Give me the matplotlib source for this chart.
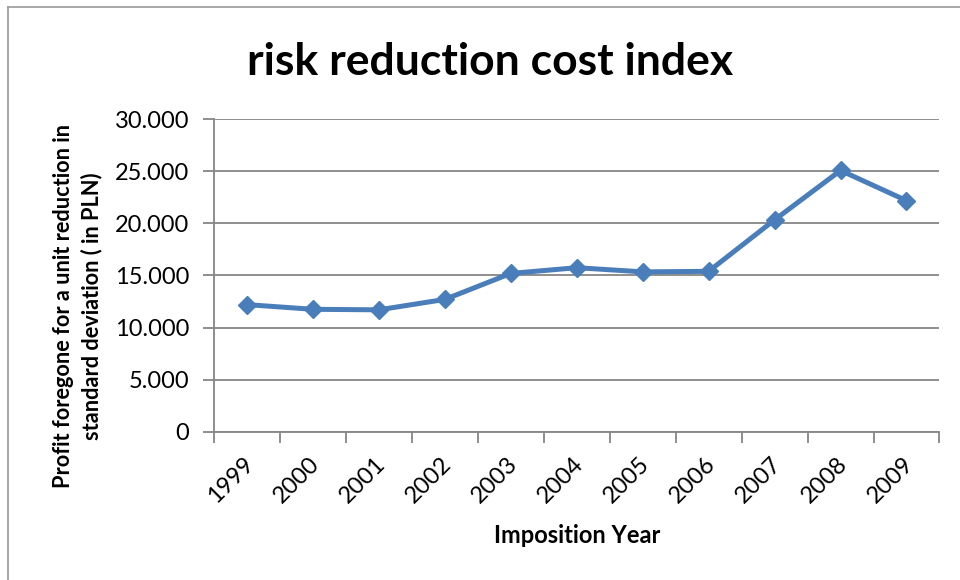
import matplotlib.pyplot as plt
from matplotlib.lines import Line2D
from matplotlib.ticker import FuncFormatter, MultipleLocator

# Data
years = ['1999', '2000', '2001', '2002', '2003', '2004',
         '2005', '2006', '2007', '2008', '2009']
cost = [12200, 11750, 11700, 12700, 15200, 15750,
        15350, 15400, 20350, 25100, 22200]

plt.rcParams['font.family'] = ['Lato', 'DejaVu Sans']

fig = plt.figure(figsize=(9.6, 5.8), dpi=100)
ax = fig.add_axes([0.2229, 0.256, 0.7557, 0.538])

x = range(len(years))
ax.plot(x, cost, color='#4A7EBB', linewidth=3.6, marker='D',
        markersize=9.5, zorder=3)

# Axes
ax.set_xlim(-0.5, len(years) - 0.5)
ax.set_ylim(0, 30000)
ax.yaxis.set_major_locator(MultipleLocator(5000))
ax.yaxis.set_major_formatter(FuncFormatter(lambda v, p: f'{v:,.0f}'.replace(',', '.')))
ax.set_xticks([i - 0.5 for i in range(len(years) + 1)], minor=False)
ax.set_xticklabels([''] * (len(years) + 1))
ax.set_xticks([i + 0.05 for i in x], minor=True)
ax.set_xticklabels(years, minor=True, rotation=45, ha='right', va='center',
                   rotation_mode='anchor', fontsize=17)
ax.tick_params(axis='x', which='minor', length=0, pad=21)
ax.tick_params(axis='x', which='major', length=8, width=1.3, color='#868686')
ax.tick_params(axis='y', length=8, width=1.3, color='#868686',
               labelsize=17, pad=10)

ax.grid(axis='y', color='#868686', linewidth=1.3)
ax.set_axisbelow(True)
for side in ['top', 'right']:
    ax.spines[side].set_visible(False)
for side in ['left', 'bottom']:
    ax.spines[side].set_color('#868686')
    ax.spines[side].set_linewidth(1.3)

# title
fig.text(490 / 960, 1 - 75 / 580, 'risk reduction cost index', fontsize=32,
         fontweight='bold', ha='center', va='baseline')

ax.set_xlabel('Imposition Year', fontsize=17, fontweight='bold')
ax.xaxis.set_label_coords(0.5, -(535 - 431.5) / 312, transform=ax.transAxes)
ax.xaxis.label.set_va('center')
ax.set_ylabel('Profit foregone for a unit reduction in\nstandard deviation ( in PLN)',
              fontsize=15.7, fontweight='bold', linespacing=1.4)
ax.yaxis.set_label_coords(-(214 - 77.5) / 725.5, (431.5 - 306) / 312,
                          transform=ax.transAxes)
ax.yaxis.label.set_va('center')

# outer chart frame (only top and left edges visible)
fig.add_artist(Line2D([8 / 960, 8 / 960], [0, 1 - 7 / 580], color='#999999', linewidth=1.2))
fig.add_artist(Line2D([8 / 960, 1], [1 - 7 / 580, 1 - 7 / 580], color='#999999', linewidth=1.2))

plt.savefig('out.png', dpi=100)
